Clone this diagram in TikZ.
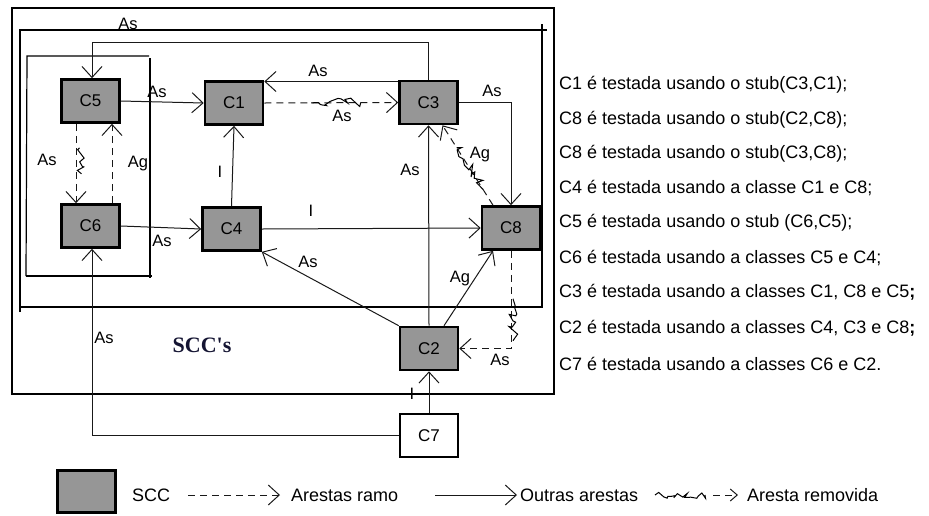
\documentclass[tikz,border=0pt]{standalone}
\usepackage{fontspec}
\setmainfont{Liberation Sans}
\newfontfamily\titlefont{Liberation Serif}
\usetikzlibrary{arrows.meta,calc,decorations.pathmorphing}
\definecolor{SccGray}{RGB}{150,150,150}
\definecolor{SccInk}{RGB}{25,25,25}
\definecolor{SccTitle}{RGB}{20,20,50}
\tikzset{
  scc box/.style={
    draw=black,
    line width=2.6pt,
    fill=SccGray,
    minimum width=58pt,
    minimum height=43pt,
    inner sep=0pt,
    font=\fontsize{17}{20}\selectfont
  },
  plain box/.style={scc box, fill=white},
  edge/.style={-{Straight Barb[length=11pt,width=20pt]}, line width=1pt, draw=SccInk},
  branch edge/.style={edge, dash pattern=on 7pt off 5pt},
  zigzag/.style={draw=black, line width=1pt, decorate,
    decoration={random steps, segment length=3.5pt, amplitude=5.5pt}},
  edge label/.style={font=\fontsize{16.5}{19}\selectfont, inner sep=0pt},
  frame/.style={line width=1.2pt, draw=black},
  note/.style={anchor=west, font=\fontsize{18}{21}\selectfont, inner sep=0pt}
}

\begin{document}
\begin{tikzpicture}[x=1pt, y=-1pt]
\pgfmathsetseed{11}
\useasboundingbox (0,0) rectangle (929,515);

% grouping frames
\draw[frame] (12,8) rectangle (554,394);
\draw[frame] (20,312) -- (20,30) -- (547,30);
\draw[frame] (542,24) -- (542,307) -- (20,307);
\draw[frame] (26,276) -- (27,56) -- (149,56);
\draw[frame] (150,58) -- (150,278);
\draw[frame] (26,276) -- (152,276);

% classes
\node[scc box] (c5) at (90.5,101) {C5};
\node[scc box] (c1) at (234,103) {C1};
\node[scc box] (c3) at (428.5,102.5) {C3};
\node[scc box] (c6) at (90.5,226) {C6};
\node[scc box] (c4) at (231.5,229) {C4};
\node[scc box] (c8) at (511,228) {C8};
\node[scc box] (c2) at (429,348.5) {C2};
\node[plain box] (c7) at (429,435.5) {C7};
\node[font=\titlefont\bfseries\fontsize{22}{26}\selectfont, text=SccTitle] (sccs) at (202,345) {SCC's};

% edges
\coordinate (c3w) at ([yshift=21pt]c3.west);
\coordinate (loop) at (0,42);
\draw[edge] (c5.east) -- (c1.west);
\draw[edge] (c3w) -- (c3w -| c1.east);
\draw[branch edge] (c1.east) -- (c3.west);
\draw[zigzag] ($(c1.east)!0.35!(c3.west)$) -- ($(c1.east)!0.72!(c3.west)$);
\draw[edge] (c3.east) -| (c8.north);
\draw[branch edge] ([xshift=-18pt]c8.north) -- ([xshift=14pt]c3.south);
\draw[zigzag] ($([xshift=-18pt]c8.north)!0.2!([xshift=14pt]c3.south)$) -- ($([xshift=-18pt]c8.north)!0.72!([xshift=14pt]c3.south)$);
\draw[edge] (c3.north) -- (c3.north |- loop) -| ([xshift=1.5pt]c5.north);
\draw[branch edge] ([xshift=-14.5pt]c5.south) -- ([xshift=-14.5pt]c6.north);
\draw[zigzag] ([xshift=-11pt,yshift=-24pt]c5.south) -- ([xshift=-9pt,yshift=-50pt]c5.south);
\draw[branch edge] ([xshift=21.5pt]c6.north) -- ([xshift=21.5pt]c5.south);
\draw[edge] (c6.east) -- (c4.west);
\draw[edge] (c4.north) -- (c1.south);
\draw[edge] (c4.east) -- (c8.west);
\draw[edge] (c2.north west) -- (c4.south east);
\draw[edge] (c2.north) -- (c3.south);
\draw[edge] ([xshift=15pt]c2.north) -- ([xshift=-18pt]c8.south);
\draw[branch edge] (c8.south) |- (c2.east);
\draw[zigzag] ([xshift=2pt,yshift=-48pt]c8.south) -- ([xshift=2pt,yshift=-90pt]c8.south);
\draw[edge] (c7.north) -- (c2.south);
\draw[edge] (c7.west) -| ([xshift=1.5pt]c6.south);

% edge labels
\node[edge label] (l35) at (128,24) {As};
\node[edge label] (l51) at (157,92) {As};
\node[edge label] (l31) at (318,71) {As};
\node[edge label] (l13) at (342,116) {As};
\node[edge label] (l38) at (492,91) {As};
\node[edge label] (l83) at (480,155) {Ag};
\node[edge label] (l23) at (410,170) {As};
\node[edge label] (l48) at (311,211) {I};
\node[edge label] (l56) at (47,160) {As};
\node[edge label] (l65) at (138,164) {Ag};
\node[edge label] (l41) at (220,172) {I};
\node[edge label] (l64) at (162,241) {As};
\node[edge label] (l24) at (308,262) {As};
\node[edge label] (l28) at (460,279) {Ag};
\node[edge label] (l82) at (500,360) {As};
\node[edge label] (l76) at (104,338) {As};
\node[edge label] (l72) at (412,394) {I};

% test order notes
\node[note] (n1) at (559,85) {C1 é testada usando o stub(C3,C1);};
\node[note] (n2) at (559,120) {C8 é testada usando o stub(C2,C8);};
\node[note] (n3) at (559,154) {C8 é testada usando o stub(C3,C8);};
\node[note] (n4) at (559,188) {C4 é testada usando a classe C1 e C8;};
\node[note] (n5) at (559,223) {C5 é testada usando o stub (C6,C5);};
\node[note] (n6) at (559,258) {C6 é testada usando a classes C5 e C4;};
\node[note] (n7) at (559,292) {C3 é testada usando a classes C1, C8 e C5\textbf{;}};
\node[note] (n8) at (559,328) {C2 é testada usando a classes C4, C3 e C8\textbf{;}};
\node[note] (n9) at (559,364) {C7 é testada usando a classes C6 e C2.};

% legend
\node[scc box, minimum height=42pt] (legscc) at (86.5,491.5) {};
\node[note] (legscctext) at (132,495) {SCC};
\coordinate (ramoA) at (188,495);
\coordinate (ramoB) at (280,495);
\draw[branch edge] (ramoA) -- (ramoB);
\node[note] (legramo) at (291,495) {Arestas ramo};
\coordinate (outA) at (435,495);
\coordinate (outB) at (517,495);
\draw[edge] (outA) -- (outB);
\node[note] (legoutras) at (520,495) {Outras arestas};
\coordinate (zigA) at (655,495);
\coordinate (zigB) at (705,495);
\draw[zigzag, decoration={random steps, segment length=3pt, amplitude=3.5pt}] (zigA) -- (zigB);
\coordinate (remA) at (713,495);
\coordinate (remB) at (738,495);
\draw[branch edge, -{Straight Barb[length=7pt,width=12pt]}] (remA) -- (remB);
\node[note] (legremov) at (747,495) {Aresta removida};
\end{tikzpicture}
\end{document}
